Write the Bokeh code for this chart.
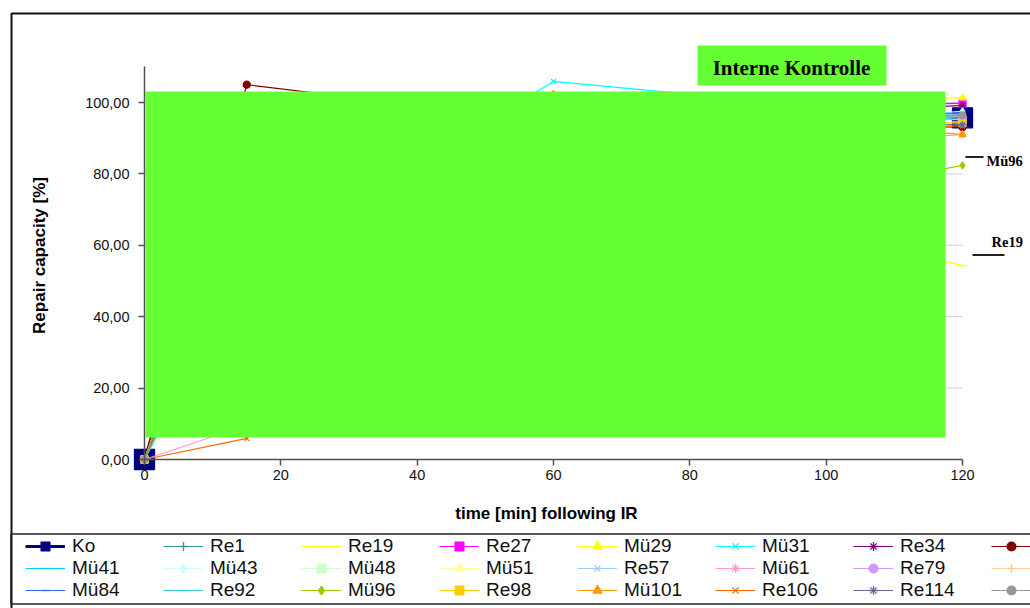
import math
from bokeh.plotting import figure
from bokeh.models import (LinearAxis, FixedTicker, BoxAnnotation, Label, Legend,
                          LegendItem, Range1d)
from bokeh.embed import file_html
from bokeh.resources import INLINE

# ---------------- data ----------------
times = [0, 15, 60, 120]

ko    = [0, 88.0, 97.0, 95.7]
re1   = [0, 75.0, 94.0, 96.6]
re19  = [0, 70.0, 83.0, 54.3]
re27  = [0, 80.0, 96.0, 99.8]
mu29  = [0, 85.0, 100.0, 101.3]
mu31  = [0, 53.0, 105.9, 95.1]
re34  = [0, 78.0, 93.0, 99.2]
s8    = [0, 105.0, 94.6, 93.1]
mu41  = [0, 72.0, 92.0, 96.0]
mu43  = [0, 65.0, 90.0, 97.5]
mu48  = [0, 70.0, 95.0, 95.2]
mu51  = [0, 68.0, 93.0, 94.6]
re57  = [0, 74.0, 91.0, 96.9]
mu61  = [0, 9.6, 85.0, 91.0]
re79  = [0, 62.0, 90.0, 95.5]
s16   = [0, 66.0, 92.0, 96.2]
mu84  = [0, 71.0, 94.0, 97.1]
re92  = [0, 73.0, 92.0, 96.3]
mu96  = [0, 58.0, 61.0, 82.4]
re98  = [0, 76.0, 96.0, 94.2]
mu101 = [0, 82.0, 102.3, 91.0]
re106 = [0, 5.9, 88.0, 93.5]
re114 = [0, 69.0, 93.0, 93.8]
s24   = [0, 77.0, 95.0, 96.4]

# names of the 8th legend column are cut off in the source picture
series_names = ["Ko", "Re1", "Re19", "Re27", "Mü29", "Mü31", "Re34", "",
                "Mü41", "Mü43", "Mü48", "Mü51", "Re57", "Mü61", "Re79", "",
                "Mü84", "Re92", "Mü96", "Re98", "Mü101", "Re106", "Re114", ""]
series_values = [ko, re1, re19, re27, mu29, mu31, re34, s8,
                 mu41, mu43, mu48, mu51, re57, mu61, re79, s16,
                 mu84, re92, mu96, re98, mu101, re106, re114, s24]

x_ticks = [0, 20, 40, 60, 80, 100, 120]
x_tick_labels = ["0", "20", "40", "60", "80", "100", "120"]
y_ticks = [0, 20, 40, 60, 80, 100]
y_tick_labels = ["0,00", "20,00", "40,00", "60,00", "80,00", "100,00"]

# ---------------- styles ----------------
colors = ["#000080", "#339999", "#FFFF00", "#FF00FF", "#FFFF00", "#00FFFF", "#800080", "#800000",
          "#00CCFF", "#CCFFFF", "#CCFFCC", "#FFFF99", "#99CCFF", "#FF99CC", "#CC99FF", "#FFCC99",
          "#3366FF", "#33CCCC", "#99CC00", "#FFCC00", "#FF9900", "#FF6600", "#666699", "#969696"]
markers = ["square", "cross", "dash", "square", "triangle", "x", "asterisk", "circle",
           "dash", "diamond", "square", "triangle", "x", "asterisk", "circle", "cross",
           "dash", "dash", "diamond", "square", "triangle", "x", "asterisk", "circle"]

# ---------------- layout ----------------
W, H = 1030, 608
OFF = 0                      # canvas origin on the page
X0_PX, X120_PX = 144, 962    # px of x=0 and x=120
Y0_PX, Y100_PX = 459, 102    # px of y=0 and y=100
SX = (X120_PX - X0_PX) / 120.0
SY = (Y0_PX - Y100_PX) / 100.0


def px2x(px):
    return (px - X0_PX) / SX


def px2y(py):
    return (Y0_PX - py) / SY


p = figure(width=W, height=H,
           x_range=Range1d(px2x(OFF), px2x(OFF + W)),
           y_range=Range1d(px2y(OFF + H), px2y(OFF)),
           x_axis_type=None, y_axis_type=None,
           toolbar_location=None, output_backend="svg", title=None,
           min_border=0, min_border_left=0, min_border_right=0,
           min_border_top=0, min_border_bottom=0)
p.outline_line_color = None
p.background_fill_color = "white"
p.border_fill_color = "white"

SANS = "Liberation Sans"
SERIF = "Liberation Serif"

# axes placed at data 0
xaxis = LinearAxis(fixed_location=0, bounds=(0, 120), ticker=FixedTicker(ticks=x_ticks),
                   major_label_overrides={t: l for t, l in zip(x_ticks, x_tick_labels)})
yaxis = LinearAxis(fixed_location=0, bounds=(0, 110), ticker=FixedTicker(ticks=y_ticks),
                   major_label_overrides={t: l for t, l in zip(y_ticks, y_tick_labels)})
for ax in (xaxis, yaxis):
    ax.axis_line_color = "#505050"
    ax.axis_line_width = 1.5
    ax.major_tick_line_color = "#505050"
    ax.major_tick_line_width = 1.5
    ax.major_tick_in = 0
    ax.major_tick_out = 6
    ax.minor_tick_line_color = None
    ax.major_label_text_font = SANS
    ax.major_label_text_font_size = "14.5px"
    ax.major_label_text_color = "#111111"
xaxis.major_label_standoff = 4
yaxis.major_label_standoff = 9
p.add_layout(xaxis, "below")
p.add_layout(yaxis, "left")

# horizontal grid lines
grid_y = y_ticks[1:]
p.segment(x0=[x_ticks[0]] * len(grid_y), x1=[x_ticks[-1]] * len(grid_y),
          y0=grid_y, y1=grid_y, line_color="#CFCFCF", line_width=1, level="underlay")

# series
items = []
for name, vals, col, mk in zip(series_names, series_values, colors, markers):
    is_ko = name == "Ko"
    lr = p.line(times, vals, line_color=col, line_width=3 if is_ko else 1.2)
    sr = p.scatter(times, vals, marker=mk, size=20 if is_ko else 7,
                   fill_color=col, line_color=col, line_width=1.3)
    items.append(LegendItem(label=name, renderers=[lr, sr]))

# green overlay box
p.add_layout(BoxAnnotation(left=px2x(145), right=px2x(945), top=px2y(91), bottom=px2y(437),
                           fill_color="#66FF33", fill_alpha=1, line_alpha=0))
# "Interne Kontrolle" box
p.add_layout(BoxAnnotation(left=px2x(697), right=px2x(886), top=px2y(45), bottom=px2y(85),
                           fill_color="#66FF33", fill_alpha=1, line_alpha=0))
p.add_layout(Label(x=px2x(791), y=px2y(67), text="Interne Kontrolle", text_align="center",
                   text_baseline="middle", text_font=SERIF, text_font_style="bold",
                   text_font_size="21px", text_color="black"))

# outlier labels with leader lines
p.segment(x0=[px2x(965), px2x(972)], x1=[px2x(983), px2x(1004)],
          y0=[px2y(156.5), px2y(254.5)], y1=[px2y(156.5), px2y(254.5)],
          line_color="#222222", line_width=1.8)
p.add_layout(Label(x=px2x(986), y=px2y(160), text="Mü96", text_align="left",
                   text_baseline="middle", text_font=SERIF, text_font_style="bold",
                   text_font_size="14.5px", text_color="black"))
p.add_layout(Label(x=px2x(991), y=px2y(241), text="Re19", text_align="left",
                   text_baseline="middle", text_font=SERIF, text_font_style="bold",
                   text_font_size="14.5px", text_color="black"))

# axis titles
p.add_layout(Label(x=px2x(546), y=px2y(513), text="time [min] following IR", text_align="center",
                   text_baseline="middle", text_font=SANS, text_font_style="bold",
                   text_font_size="17px", text_color="black"))
p.add_layout(Label(x=px2x(39), y=px2y(255), text="Repair capacity [%]", text_align="center",
                   text_baseline="middle", angle=math.pi / 2, text_font=SANS,
                   text_font_style="bold", text_font_size="17px", text_color="black"))

# chart border and legend box
p.add_layout(BoxAnnotation(left=px2x(11), right=px2x(1200), top=px2y(13), bottom=px2y(800),
                           fill_alpha=0, line_color="#111111", line_alpha=1, line_width=2))
p.add_layout(BoxAnnotation(left=px2x(10.5), right=px2x(1200), top=px2y(533.5), bottom=px2y(603.5),
                           fill_alpha=0, line_color="#222222", line_alpha=1, line_width=1.5))

legend = Legend(items=items, location=(25 - OFF, OFF + H - 601), orientation="horizontal",
                ncols=8, glyph_width=40, glyph_height=22, label_height=22, label_width=91,
                label_standoff=7, spacing=0, padding=0, margin=0,
                border_line_alpha=0, background_fill_alpha=0,
                label_text_font=SANS, label_text_font_size="19px", label_text_color="#111111")
p.add_layout(legend)

open("out.html", "w").write(file_html(p, INLINE))
